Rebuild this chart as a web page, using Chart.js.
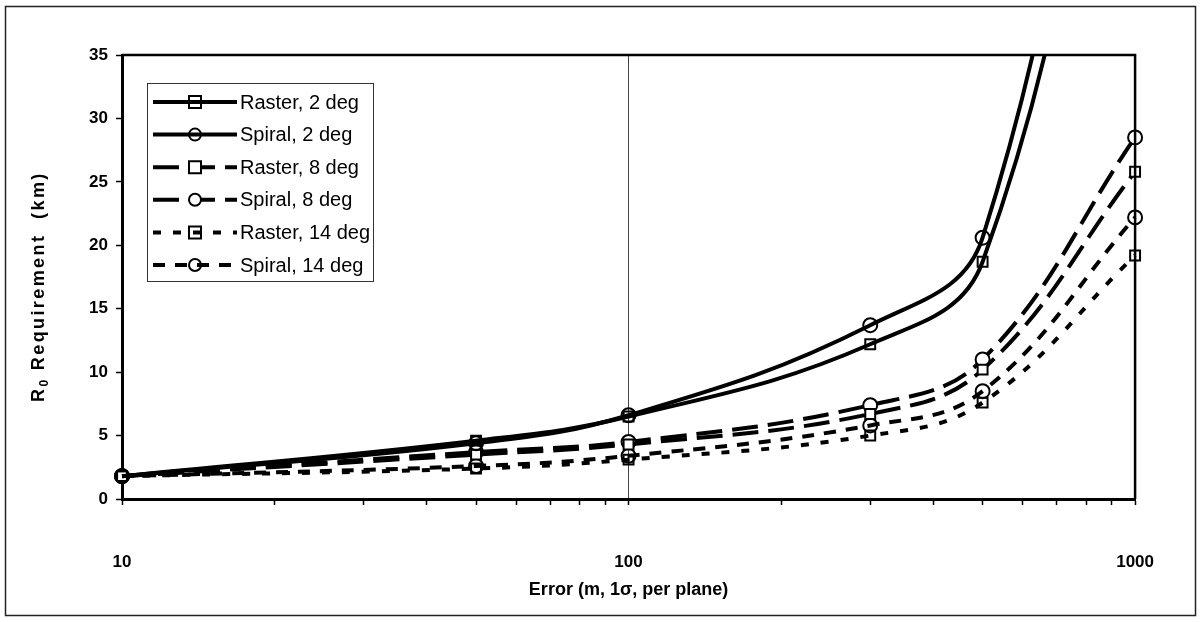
<!DOCTYPE html>
<html>
<head>
<meta charset="utf-8">
<script src="https://cdn.jsdelivr.net/npm/chart.js@4.4.1/dist/chart.umd.min.js"></script>
<style>
  html, body { margin: 0; padding: 0; background: #fff; }
  #wrap { width: 1201px; height: 622px; }
</style>
</head>
<body>
<div id="wrap"><canvas id="c" width="1201" height="622"></canvas></div>
<script>
// Position error (m, 1 sigma, per plane) at which each requirement was computed
const errors = [10, 50, 100, 300, 500, 1000];

// R0 requirement (km) for each scan pattern / beam angle
const raster2  = [1.8, 4.6, 6.5, 12.2, 18.7, 70.0];
const spiral2  = [1.8, 4.4, 6.6, 13.7, 20.6, 80.0];
const raster8  = [1.8, 3.5, 4.3, 6.7, 10.2, 25.8];
const spiral8  = [1.8, 3.7, 4.5, 7.4, 11.0, 28.5];
const raster14 = [1.8, 2.4, 3.1, 5.0, 7.6, 19.2];
const spiral14 = [1.8, 2.6, 3.4, 5.8, 8.5, 22.2];

const seriesNames = ['Raster, 2 deg', 'Spiral, 2 deg', 'Raster, 8 deg',
                     'Spiral, 8 deg', 'Raster, 14 deg', 'Spiral, 14 deg'];

// Axis ticks and titles
const xTickValues = [10, 20, 30, 40, 50, 60, 70, 80, 90,
                     100, 200, 300, 400, 500, 600, 700, 800, 900, 1000];
const xTickLabels = [10, 100, 1000];
const yTickValues = [0, 5, 10, 15, 20, 25, 30, 35];
const xTitle = 'Error (m, 1\u03C3, per plane)';
const yTitleParts = ['R', '0', ' Requirement  (km)'];

const FONT = '"Liberation Sans", Arial, Helvetica, sans-serif';

function pts(values) {
  return errors.map((e, i) => ({ x: e, y: values[i] }));
}

function series(label, values, style, dash, fill) {
  return {
    label,
    data: pts(values),
    borderColor: '#000',
    borderWidth: 4,
    borderDash: dash,
    pointStyle: style,
    pointRadius: 7,
    pointHoverRadius: 7,
    pointBorderWidth: 2,
    pointBorderColor: '#000',
    pointBackgroundColor: fill,
    tension: 0.4,
    fill: false,
    clip: { left: 12, right: 12, top: 0, bottom: 12 }
  };
}

const CLEAR = 'rgba(0,0,0,0)';
const datasets = [
  series(seriesNames[0], raster2,  'rect',   [],       CLEAR),
  series(seriesNames[1], spiral2,  'circle', [],       CLEAR),
  series(seriesNames[2], raster8,  'rect',   [26, 10], '#fff'),
  series(seriesNames[3], spiral8,  'circle', [26, 10], '#fff'),
  series(seriesNames[4], raster14, 'rect',   [8, 12],  CLEAR),
  series(seriesNames[5], spiral14, 'circle', [12, 10], CLEAR)
];

// Outer frame plus the box around the plotting area
const framePlugin = {
  id: 'frame',
  beforeDraw(chart) {
    const ctx = chart.ctx;
    ctx.save();
    ctx.fillStyle = '#fff';
    ctx.fillRect(0, 0, chart.width, chart.height);
    ctx.strokeStyle = '#222';
    ctx.lineWidth = 1.5;
    ctx.strokeRect(5.5, 6.5, 1190, 609);
    ctx.restore();
  },
  afterDraw(chart) {
    const { ctx, chartArea: a } = chart;
    ctx.save();
    ctx.strokeStyle = '#000';
    ctx.lineWidth = 2.5;
    ctx.beginPath();
    ctx.moveTo(a.left, a.top);
    ctx.lineTo(a.right, a.top);
    ctx.lineTo(a.right, a.bottom);
    ctx.stroke();
    ctx.restore();
  }
};

// Rotated y-axis title with a subscript zero
const yTitlePlugin = {
  id: 'yTitle',
  afterDraw(chart) {
    const ctx = chart.ctx;
    ctx.save();
    ctx.translate(44, 402);
    ctx.rotate(-Math.PI / 2);
    ctx.fillStyle = '#000';
    ctx.textAlign = 'left';
    ctx.textBaseline = 'alphabetic';
    ctx.letterSpacing = '2.4px';
    let x = 0;
    ctx.font = 'bold 18px ' + FONT;
    ctx.fillText(yTitleParts[0], x, 0);
    x += ctx.measureText(yTitleParts[0]).width;
    ctx.font = 'bold 12px ' + FONT;
    ctx.fillText(yTitleParts[1], x, 4);
    x += ctx.measureText(yTitleParts[1]).width;
    ctx.font = 'bold 18px ' + FONT;
    ctx.fillText(yTitleParts[2], x, 0);
    ctx.restore();
  }
};

// Legend box drawn with each dataset's own line dash and marker
const legendPlugin = {
  id: 'lineLegend',
  afterDraw(chart) {
    const ctx = chart.ctx;
    const box = { x: 147.5, y: 83.5, w: 226, h: 198 };
    ctx.save();
    ctx.fillStyle = '#fff';
    ctx.fillRect(box.x, box.y, box.w, box.h);
    ctx.strokeStyle = '#333';
    ctx.lineWidth = 1;
    ctx.strokeRect(box.x, box.y, box.w, box.h);

    chart.data.datasets.forEach((ds, i) => {
      const y = 102 + i * 32.6;
      const x0 = 153, x1 = 237, xm = 195;
      ctx.strokeStyle = ds.borderColor;
      ctx.lineWidth = ds.borderWidth;
      ctx.setLineDash(ds.borderDash || []);
      ctx.beginPath();
      ctx.moveTo(x0, y);
      ctx.lineTo(x1, y);
      ctx.stroke();
      ctx.setLineDash([]);

      ctx.fillStyle = ds.pointBackgroundColor;
      ctx.strokeStyle = ds.pointBorderColor;
      ctx.lineWidth = ds.pointBorderWidth;
      ctx.beginPath();
      if (ds.pointStyle === 'circle') {
        ctx.arc(xm, y, 6, 0, Math.PI * 2);
      } else {
        ctx.rect(xm - 6, y - 6, 12, 12);
      }
      ctx.fill();
      ctx.stroke();

      ctx.fillStyle = '#000';
      ctx.font = '20px ' + FONT;
      ctx.textAlign = 'left';
      ctx.textBaseline = 'middle';
      ctx.fillText(ds.label, 240, y + 1);
    });
    ctx.restore();
  }
};

new Chart(document.getElementById('c'), {
  type: 'line',
  data: { datasets },
  plugins: [framePlugin, yTitlePlugin, legendPlugin],
  options: {
    responsive: false,
    animation: false,
    events: [],
    layout: { padding: { left: 6, top: 55, right: 62, bottom: 6 } },
    plugins: {
      legend: { display: false },
      tooltip: { enabled: false },
      title: { display: false }
    },
    scales: {
      x: {
        type: 'logarithmic',
        min: 10,
        max: 1000,
        afterFit(scale) { scale.height = 117; },
        afterBuildTicks(scale) {
          scale.ticks = xTickValues.map(v => ({ value: v }));
        },
        ticks: {
          autoSkip: false,
          maxRotation: 0,
          color: '#000',
          padding: 47,
          font: { family: FONT, size: 17, weight: 'bold' },
          callback(value) {
            return xTickLabels.includes(value) ? String(value) : '';
          }
        },
        grid: {
          drawOnChartArea: true,
          color: ctx => (ctx.tick && ctx.tick.value === 100) ? '#444' : CLEAR,
          lineWidth: 1,
          tickColor: '#000',
          tickLength: 6,
          tickWidth: 1.5
        },
        border: { display: true, color: '#000', width: 3 },
        title: {
          display: true,
          text: xTitle,
          color: '#000',
          font: { family: FONT, size: 18, weight: 'bold' },
          padding: { top: 0, bottom: 15 }
        }
      },
      y: {
        type: 'linear',
        min: 0,
        max: 35,
        afterFit(scale) { scale.width = 116; },
        afterBuildTicks(scale) {
          scale.ticks = yTickValues.map(v => ({ value: v }));
        },
        ticks: {
          color: '#000',
          padding: 8,
          font: { family: FONT, size: 17, weight: 'bold' }
        },
        grid: {
          drawOnChartArea: false,
          tickColor: '#000',
          tickLength: 6,
          tickWidth: 1.5
        },
        border: { display: true, color: '#000', width: 3 },
        title: { display: false }
      }
    }
  }
});
</script>
</body>
</html>
